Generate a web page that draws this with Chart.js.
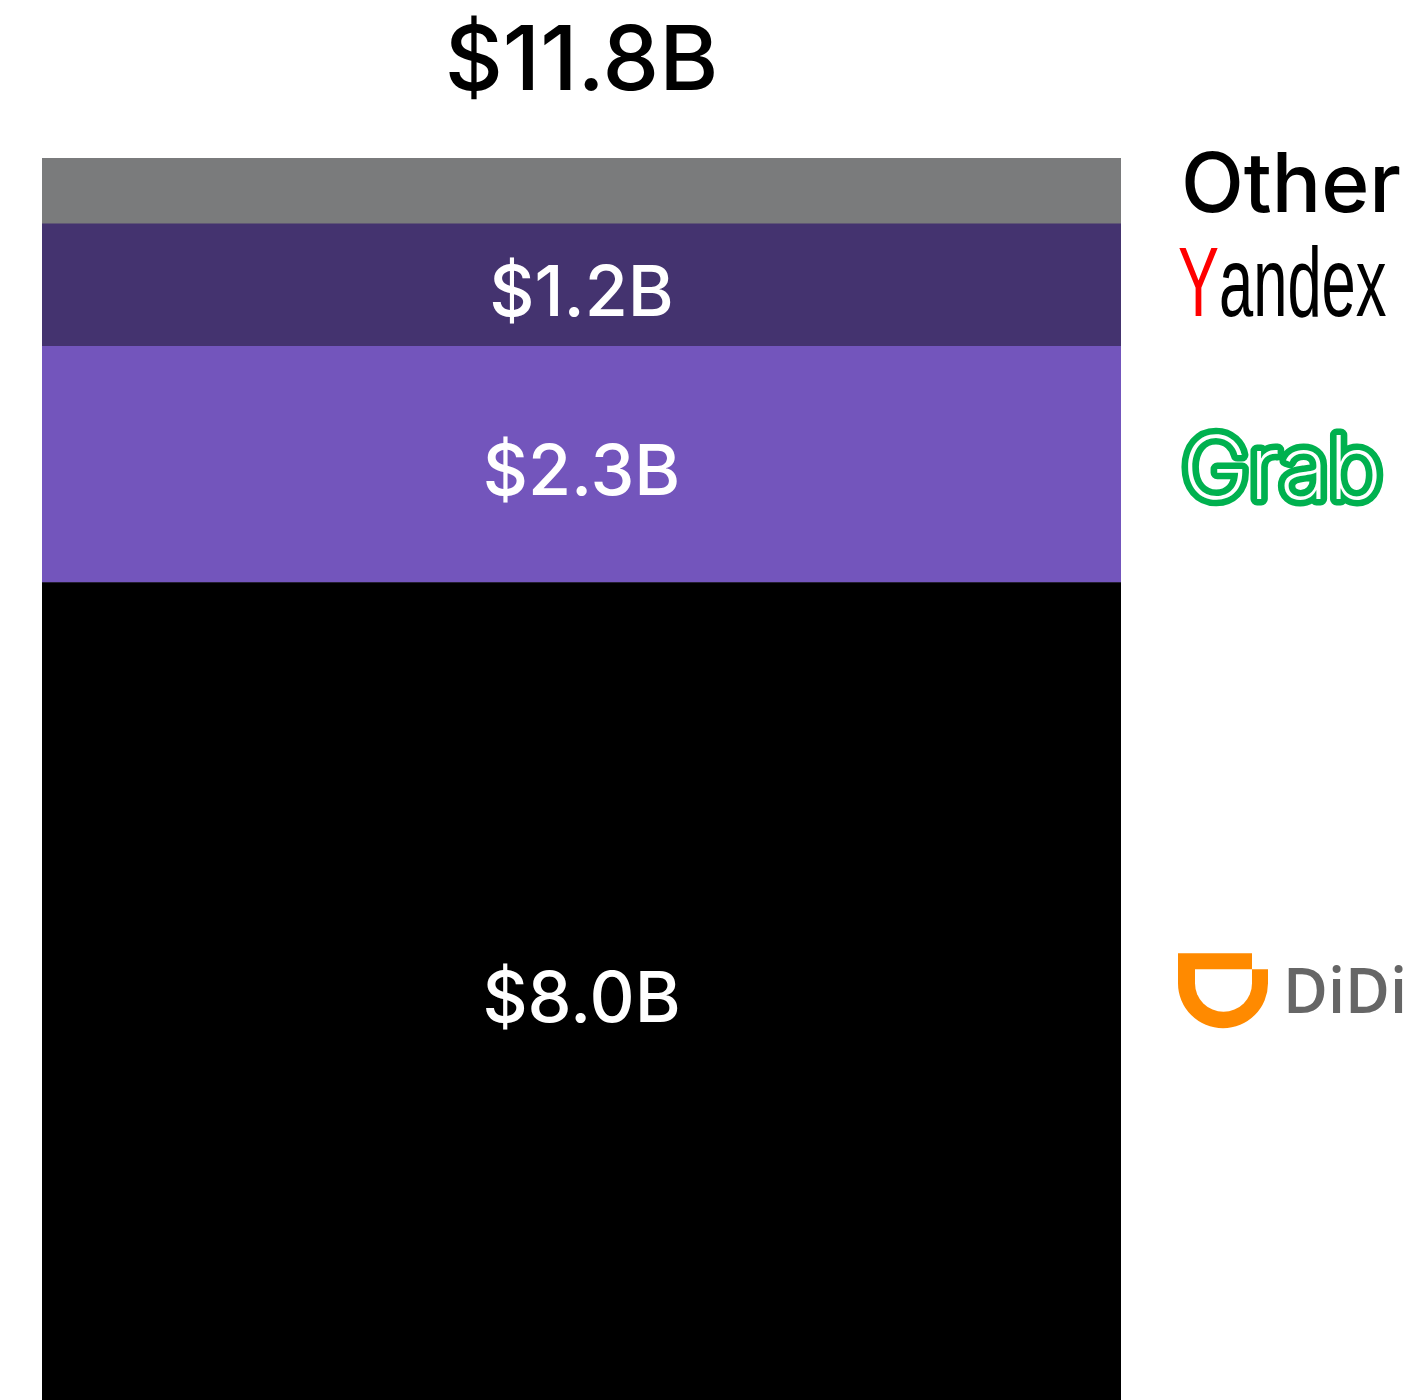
<!DOCTYPE html>
<html>
<head>
<meta charset="utf-8">
<script src="https://cdn.jsdelivr.net/npm/chart.js@4"></script>
<style>
html,body{margin:0;padding:0;background:#fff;}
#wrap{width:1424px;height:1400px;position:relative;}
</style>
</head>
<body>
<div id="wrap"><canvas id="c" width="1424" height="1400"></canvas></div>
<script>
// ---- data ----
const categories = ['2019'];
const companies = ['DiDi', 'Grab', 'Yandex', 'Other'];
const values = [8.0, 2.31, 1.2, 0.64];
const valueLabels = ['$8.0B', '$2.3B', '$1.2B', ''];
const totalLabel = '$11.8B';
const colors = ['#000000', '#7355BC', '#44336F', '#7A7B7C'];

const datasets = companies.map((name, i) => ({
  label: name,
  data: [values[i]],
  backgroundColor: colors[i],
  borderWidth: 0,
  barPercentage: 1,
  categoryPercentage: 1
}));

function drawDidiLogo(ctx, x, cy) {
  const top = cy - 38;
  const w = 90, R = 45;
  const cx = x + R;
  const arcY = top + 75 - R;
  ctx.save();
  ctx.fillStyle = '#FF8A00';
  ctx.beginPath();
  ctx.moveTo(x, top);
  ctx.lineTo(x + 74, top);
  ctx.lineTo(x + 74, top + 16);
  ctx.lineTo(x + w, top + 16);
  ctx.lineTo(x + w, arcY);
  ctx.arc(cx, arcY, R, 0, Math.PI, false);
  ctx.closePath();
  ctx.fill();
  ctx.fillStyle = '#ffffff';
  ctx.beginPath();
  const ir = 28.5, icx = x + 74 - ir;
  ctx.moveTo(x + 17, top + 16);
  ctx.lineTo(x + 74, top + 16);
  ctx.lineTo(x + 74, arcY);
  ctx.arc(icx, arcY, ir, 0, Math.PI, false);
  ctx.closePath();
  ctx.fill();
  ctx.restore();
}

function fitText(ctx, text, x, y, width) {
  const w = ctx.measureText(text).width;
  ctx.save();
  ctx.translate(x, y);
  ctx.scale(width / w, 1);
  ctx.fillText(text, 0, 0);
  ctx.restore();
}

const labelPlugin = {
  id: 'labels',
  afterDatasetsDraw(chart) {
    const ctx = chart.ctx;
    ctx.save();
    ctx.textAlign = 'center';
    ctx.textBaseline = 'alphabetic';
    const metas = chart.data.datasets.map((d, i) => chart.getDatasetMeta(i).data[0]);
    metas.forEach((bar, i) => {
      const t = valueLabels[i];
      if (!t) return;
      const cy = (bar.y + bar.base) / 2;
      ctx.fillStyle = '#ffffff';
      ctx.font = '500 70px Inter, "Open Sans", sans-serif';
      ctx.fillText(t, bar.x, cy + 31);
    });
    const topBar = metas[metas.length - 1];
    ctx.fillStyle = '#000000';
    ctx.font = '500 90px Inter, "Open Sans", sans-serif';
    ctx.fillText(totalLabel, topBar.x, topBar.y - 68);

    const rx = chart.chartArea.right + 57;
    ctx.textAlign = 'left';
    metas.forEach((bar, i) => {
      const cy = (bar.y + bar.base) / 2;
      const name = companies[i];
      if (name === 'Other') {
        ctx.fillStyle = '#000';
        ctx.font = '500 82px Inter, "Open Sans", sans-serif';
        ctx.fillText('Other', rx + 3, cy + 21);
      } else if (name === 'Yandex') {
        ctx.font = '99px "Liberation Sans", sans-serif';
        const total = ctx.measureText('Yandex').width;
        const sx = 204 / total;
        const wY = ctx.measureText('Y').width;
        ctx.save();
        ctx.translate(rx, cy + 31);
        ctx.scale(sx, 1);
        ctx.fillStyle = '#FF0000';
        ctx.fillText('Y', 0, 0);
        ctx.fillStyle = '#000';
        ctx.fillText('andex', wY, 0);
        ctx.restore();
      } else if (name === 'Grab') {
        ctx.font = '200 88px Inter, "Open Sans", sans-serif';
        const w = ctx.measureText('Grab').width;
        ctx.save();
        ctx.translate(rx + 4, cy + 35);
        ctx.scale(200 / w, 1);
        ctx.lineJoin = 'round';
        ctx.strokeStyle = '#00B14F';
        ctx.lineWidth = 13;
        ctx.strokeText('Grab', 0, 0);
        ctx.fillStyle = '#ffffff';
        ctx.fillText('Grab', 0, 0);
        ctx.restore();
      } else if (name === 'DiDi') {
        drawDidiLogo(ctx, rx, cy);
        ctx.fillStyle = '#666666';
        ctx.font = '600 64px "Open Sans", "DejaVu Sans", sans-serif';
        fitText(ctx, 'DiDi', rx + 105, cy + 22, 124);
      }
    });
    ctx.restore();
  }
};

new Chart(document.getElementById('c'), {
  type: 'bar',
  data: { labels: categories, datasets },
  options: {
    responsive: false,
    animation: false,
    devicePixelRatio: 1,
    layout: { padding: { left: 42, right: 303, top: 0, bottom: 0 } },
    plugins: { legend: { display: false }, tooltip: { enabled: false } },
    scales: {
      x: { stacked: true, display: false },
      y: { stacked: true, display: false, min: 0, max: 13.7 }
    }
  },
  plugins: [labelPlugin]
});
</script>
</body>
</html>
